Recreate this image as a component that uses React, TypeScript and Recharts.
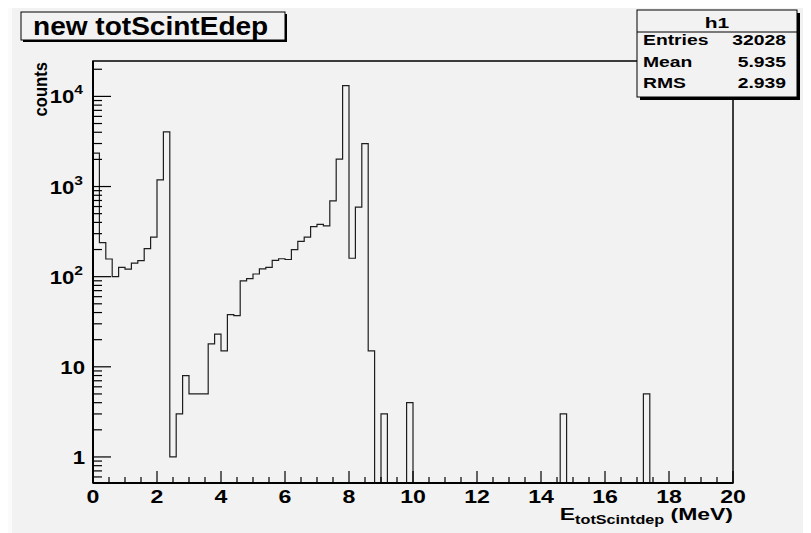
import { Line, LineChart, ReferenceArea, XAxis, YAxis } from "recharts"

// h1: energy deposited in the scintillator, 100 bins of 0.2 MeV from 0 to 20 MeV
const binLow = 0
const binWidth = 0.2
const binCounts = [
  2350, 239, 157, 100, 127, 121, 141, 151, 205, 274,
  1186, 4050, 1, 3, 8, 5, 5, 5, 18, 23,
  15, 38, 37, 90, 95, 107, 122, 127, 152, 158,
  155, 200, 247, 274, 359, 380, 366, 694, 2012, 13150,
  160, 590, 3000, 15, 0, 3, 0, 0, 0, 4,
  0, 0, 0, 0, 0, 0, 0, 0, 0, 0,
  0, 0, 0, 0, 0, 0, 0, 0, 0, 0,
  0, 0, 0, 3, 0, 0, 0, 0, 0, 0,
  0, 0, 0, 0, 0, 0, 5, 0, 0, 0,
  0, 0, 0, 0, 0, 0, 0, 0, 0, 0,
]

const statLabels = ["Entries", "Mean", "RMS"]
const statValues = ["32028", "5.935", "2.939"]

const xTicks = [
  0, 0.5, 1, 1.5, 2, 2.5, 3, 3.5, 4, 4.5, 5, 5.5, 6, 6.5, 7, 7.5, 8, 8.5, 9, 9.5, 10,
  10.5, 11, 11.5, 12, 12.5, 13, 13.5, 14, 14.5, 15, 15.5, 16, 16.5, 17, 17.5, 18, 18.5, 19, 19.5, 20,
]
const xMajorTicks = [0, 2, 4, 6, 8, 10, 12, 14, 16, 18, 20]

const yTicks = [
  0.6, 0.7, 0.8, 0.9,
  1, 2, 3, 4, 5, 6, 7, 8, 9,
  10, 20, 30, 40, 50, 60, 70, 80, 90,
  100, 200, 300, 400, 500, 600, 700, 800, 900,
  1000, 2000, 3000, 4000, 5000, 6000, 7000, 8000, 9000,
  10000, 20000,
]
const yMajorTicks = [1, 10, 100, 1000, 10000]
const yMajorExponents = [0, 1, 2, 3, 4]

const yMin = 0.514
const yMax = 24700

const font = "'Liberation Sans', Arial, Helvetica, sans-serif"
const bg = "#f2f2f2"

// one point per bin low edge, plus the upper edge of the last bin, drawn as steps
const histData = [...binCounts, binCounts[binCounts.length - 1]].map((c, i) => ({
  e: +(binLow + i * binWidth).toFixed(1),
  n: Math.max(c, yMin),
}))

function XTick(props: any) {
  const { x, y, payload } = props
  const major = xMajorTicks.includes(payload.value)
  return (
    <g>
      <line x1={x} x2={x} y1={y} y2={y - (major ? 12 : 6)} stroke="#000" strokeWidth={1.2} />
      {major && (
        <text
          transform={`translate(${x},${y + 20}) scale(1.25,1)`}
          textAnchor="middle"
          fontSize={18.5}
          fontWeight="bold"
          fontFamily={font}
          fill="#000"
        >
          {payload.value}
        </text>
      )}
    </g>
  )
}

function YTick(props: any) {
  const { x, y, payload } = props
  const idx = yMajorTicks.indexOf(payload.value)
  const major = idx >= 0
  const exp = major ? yMajorExponents[idx] : 0
  return (
    <g>
      <line x1={x} x2={x + (major ? 18 : 9)} y1={y} y2={y} stroke="#000" strokeWidth={1.2} />
      {major && (
        <text
          transform={`translate(${x - (exp > 1 ? 10 : 8)},${y + 7}) scale(1.2,1)`}
          textAnchor="end"
          fontSize={18.5}
          fontWeight="bold"
          fontFamily={font}
          fill="#000"
        >
          {exp === 0 ? "1" : "10"}
          {exp > 1 && (
            <tspan fontSize={13} dy={-9}>
              {exp}
            </tspan>
          )}
        </text>
      )}
    </g>
  )
}

function Labels() {
  return (
    <svg
      width={811}
      height={533}
      style={{ position: "absolute", left: 0, top: 0, pointerEvents: "none" }}
    >
      {/* title pave */}
      <rect x={23} y={14} width={264} height={28} fill="#000" />
      <rect x={21} y={12} width={264} height={28} fill={bg} stroke="#000" strokeWidth={1} />
      <text
        transform="translate(33,35) scale(1.1,1)"
        fontSize={25.5}
        fontWeight="bold"
        fontFamily={font}
        fill="#000"
      >
        new totScintEdep
      </text>

      {/* statistics box */}
      <rect x={640} y={13} width={160} height={87} fill="#000" />
      <rect x={637} y={10} width={160} height={87} fill={bg} stroke="#000" strokeWidth={1} />
      <line x1={637} x2={797} y1={32} y2={32} stroke="#000" strokeWidth={1} />
      <text
        transform="translate(717,28) scale(1.4,1)"
        textAnchor="middle"
        fontSize={15}
        fontWeight="bold"
        fontFamily={font}
        fill="#000"
      >
        h1
      </text>
      {statLabels.map((label, i) => (
        <g key={label}>
          <text
            transform={`translate(643,${45 + i * 21.5}) scale(1.38,1)`}
            fontSize={14}
            fontWeight="bold"
            fontFamily={font}
            fill="#000"
          >
            {label}
          </text>
          <text
            transform={`translate(786,${45 + i * 21.5}) scale(1.38,1)`}
            textAnchor="end"
            fontSize={14}
            fontWeight="bold"
            fontFamily={font}
            fill="#000"
          >
            {statValues[i]}
          </text>
        </g>
      ))}

      {/* axis titles */}
      <text
        transform="translate(47,62) rotate(-90) scale(0.9,1)"
        textAnchor="end"
        fontSize={18.5}
        fontWeight="bold"
        fontFamily={font}
        fill="#000"
      >
        counts
      </text>
      <text
        transform="translate(733,520) scale(1.35,1)"
        textAnchor="end"
        fontSize={17}
        fontWeight="bold"
        fontFamily={font}
        fill="#000"
      >
        E
        <tspan fontSize={12} dy={4}>
          totScintdep
        </tspan>
        <tspan dy={-4}> (MeV)</tspan>
      </text>
    </svg>
  )
}

export default function App() {
  return (
    <div
      style={{
        position: "relative",
        width: 811,
        height: 533,
        marginLeft: -8,
        marginTop: -8,
        background: "#fbfbfb",
        overflow: "hidden",
      }}
    >
      <div style={{ position: "absolute", left: 12, top: 8, right: 0, bottom: 0, background: bg }} />
      <div style={{ position: "absolute", left: 0, top: 0 }}>
        <LineChart
          width={811}
          height={533}
          data={histData}
          margin={{ top: 61, right: 78, bottom: 20, left: 33 }}
        >
          <ReferenceArea
            x1={0}
            x2={20}
            y1={yMin}
            y2={yMax}
            fill="none"
            stroke="#000"
            strokeWidth={1.5}
            ifOverflow="visible"
          />
          <XAxis
            type="number"
            dataKey="e"
            domain={[0, 20]}
            ticks={xTicks}
            interval={0}
            tick={XTick}
            tickLine={false}
            tickSize={0}
            tickMargin={0}
            axisLine={{ stroke: "#000", strokeWidth: 2 }}
            height={30}
            allowDataOverflow
          />
          <YAxis
            scale="log"
            domain={[yMin, yMax]}
            ticks={yTicks}
            interval={0}
            tick={YTick}
            tickLine={false}
            tickSize={0}
            tickMargin={0}
            axisLine={{ stroke: "#000", strokeWidth: 2 }}
            width={60}
            allowDataOverflow
          />
          <Line
            type="stepAfter"
            dataKey="n"
            stroke="#1e1e1e"
            strokeWidth={1.2}
            dot={false}
            isAnimationActive={false}
          />
        </LineChart>
      </div>
      <Labels />
    </div>
  )
}
